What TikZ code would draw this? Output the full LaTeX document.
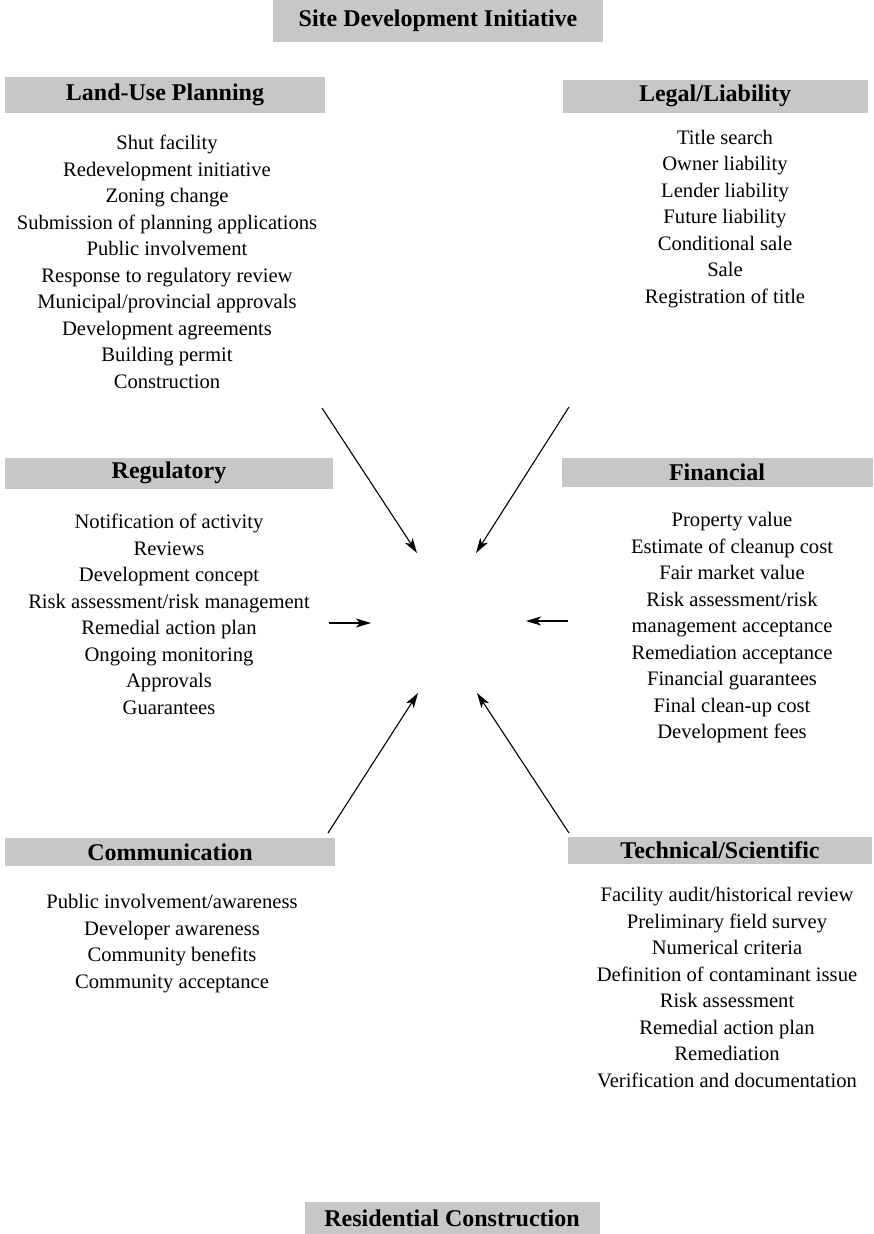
\documentclass[tikz,border=0pt]{standalone}
\usepackage{fontspec}
\setmainfont{Liberation Serif}
\usetikzlibrary{arrows.meta,positioning}

\tikzset{
  bar/.style={fill=black!22, inner sep=0pt, font=\fontsize{24}{26}\selectfont\bfseries},
  items/.style={align=center, anchor=north, inner sep=0pt, font=\fontsize{20.6}{26.5}\selectfont},
  feed/.style={-{Stealth[length=15pt,width=9pt,inset=4pt]}, line width=1.1pt},
}

\begin{document}
\begin{tikzpicture}[x=1pt, y=-1pt]
  \useasboundingbox (0,0) rectangle (874,1234);

  \node[bar, minimum width=330, minimum height=42] (site) at (438,21) {Site Development Initiative};

  \node[bar, minimum width=320, minimum height=36] (landUse) at (165,95) {Land-Use Planning};
  \node[items] (landUseList) at (167,135) {Shut facility\\ Redevelopment initiative\\ Zoning change\\
    Submission of planning applications\\ Public involvement\\ Response to regulatory review\\
    Municipal/provincial approvals\\ Development agreements\\ Building permit\\ Construction};

  \node[bar, minimum width=305, minimum height=33] (legal) at (715,96) {Legal/Liability};
  \node[items] (legalList) at (725,130) {Title search\\ Owner liability\\ Lender liability\\
    Future liability\\ Conditional sale\\ Sale\\ Registration of title};

  \node[bar, minimum width=328, minimum height=31] (regulatory) at (169,473) {Regulatory};
  \node[items] (regulatoryList) at (169,514) {Notification of activity\\ Reviews\\ Development concept\\
    Risk assessment/risk management\\ Remedial action plan\\ Ongoing monitoring\\ Approvals\\ Guarantees};

  \node[bar, minimum width=311, minimum height=29] (financial) at (717,472) {Financial};
  \node[items] (financialList) at (732,512) {Property value\\ Estimate of cleanup cost\\ Fair market value\\
    Risk assessment/risk\\ management acceptance\\ Remediation acceptance\\ Financial guarantees\\
    Final clean-up cost\\ Development fees};

  \node[bar, minimum width=330, minimum height=28] (communication) at (170,852) {Communication};
  \node[items] (communicationList) at (172,894) {Public involvement/awareness\\ Developer awareness\\
    Community benefits\\ Community acceptance};

  \node[bar, minimum width=304, minimum height=27] (technical) at (720,850) {Technical/Scientific};
  \node[items] (technicalList) at (727,887) {Facility audit/historical review\\ Preliminary field survey\\
    Numerical criteria\\ Definition of contaminant issue\\ Risk assessment\\ Remedial action plan\\
    Remediation\\ Verification and documentation};

  \node[bar, minimum width=295, minimum height=32] (residential) at (452,1218) {Residential Construction};

  % arrows into the middle
  \coordinate (ulTail) at (322,408);  \coordinate (ulHead) at (417,553);
  \coordinate (urTail) at (569,407);  \coordinate (urHead) at (476,553);
  \coordinate (mlTail) at (329,623);  \coordinate (mlHead) at (371,623);
  \coordinate (mrTail) at (568,621);  \coordinate (mrHead) at (526,621);
  \coordinate (llTail) at (328,833);  \coordinate (llHead) at (418,693);
  \coordinate (lrTail) at (569,833);  \coordinate (lrHead) at (477,693);

  \draw[feed] (ulTail) -- (ulHead);
  \draw[feed] (urTail) -- (urHead);
  \draw[feed] (mlTail) -- (mlHead);
  \draw[feed] (mrTail) -- (mrHead);
  \draw[feed] (llTail) -- (llHead);
  \draw[feed] (lrTail) -- (lrHead);
\end{tikzpicture}
\end{document}
